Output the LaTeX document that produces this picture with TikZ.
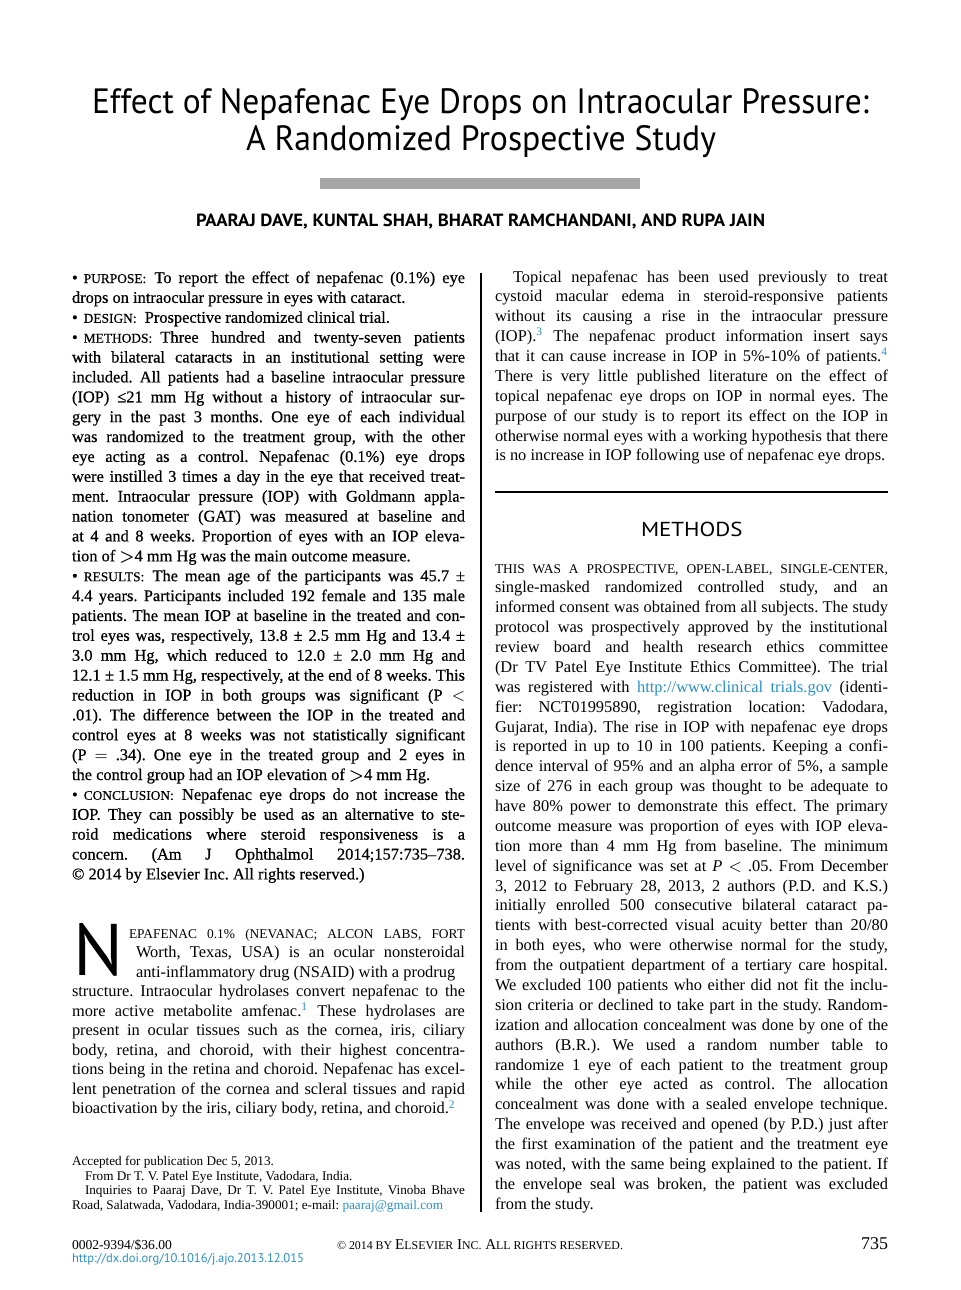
\documentclass[tikz,border=0pt]{standalone}
\usepackage{graphicx}
\usepackage{fontspec}
\setmainfont{Liberation Serif}
\newfontfamily\hdfont{PT Sans}
\newfontface\absfont{Liberation Serif}[FakeBold=0.5]
\usepackage{xcolor}
\definecolor{linkblue}{HTML}{2A90C5}
\definecolor{bargray}{HTML}{A6A6A6}
\tolerance=10000
\pretolerance=-1
\hbadness=10000
\hfuzz=2pt
\hyphenpenalty=10000
\frenchspacing
\newcommand\smc[1]{{\fontsize{6.7pt}{9.94pt}\selectfont #1}}
\newcommand\smf[1]{{\fontsize{6.3pt}{8pt}\selectfont #1}}
\newcommand\rf[1]{\textcolor{linkblue}{\textsuperscript{#1}}}
\newcommand\bul{•\kern3pt}
\newcommand\bgt{\mbox{\boldmath$>$}}
\tikzset{
  para/.style={anchor=base west, inner sep=0pt, outer sep=0pt, text width=196.5pt, align=justify,
    font=\fontsize{8.2pt}{9.94pt}\selectfont},
  headtxt/.style={inner sep=0pt, outer sep=0pt, anchor=base},
  colrule/.style={line width=0.65pt, black},
}
\begin{document}
\begin{tikzpicture}[x=0.5pt,y=-0.5pt]
\useasboundingbox (0,0) rectangle (960,1290);
\fill[white] (0,0) rectangle (960,1290);

% title
\node[headtxt, anchor=base west] (t1) at (92,113) {\resizebox{388.5pt}{12.5pt}{\hdfont Effect of Nepafenac Eye Drops on Intraocular Pressure:}};
\node[headtxt, anchor=base west] (t2) at (246,150) {\resizebox{235pt}{12.5pt}{\hdfont A Randomized Prospective Study}};
\fill[bargray] (320,178) rectangle (640,189);
\node[headtxt, anchor=base west] (au) at (196,226) {\resizebox{284.5pt}{6.3pt}{\hdfont\bfseries PAARAJ DAVE, KUNTAL SHAH, BHARAT RAMCHANDANI, AND RUPA JAIN}};

% column rule
\coordinate (rtop) at (481,273);
\coordinate (rbot) at (481,1212);
\draw[colrule] (rtop) -- (rbot);

% abstract
\node[para, font=\absfont\fontsize{8.2pt}{9.94pt}\selectfont] (abs) at (72,283) {%
\bul\smc{PURPOSE:}\enspace To report the effect of nepafenac (0.1\%) eye\linebreak
drops on intraocular pressure in eyes with cataract.\par
\bul\smc{DESIGN:}\enspace Prospective randomized clinical trial.\par
\bul\smc{METHODS:}\enspace Three hundred and twenty-seven patients\linebreak
with bilateral cataracts in an institutional setting were\linebreak
included. All patients had a baseline intraocular pressure\linebreak
(IOP) ≤21 mm Hg without a history of intraocular sur-\linebreak
gery in the past 3 months. One eye of each individual\linebreak
was randomized to the treatment group, with the other\linebreak
eye acting as a control. Nepafenac (0.1\%) eye drops\linebreak
were instilled 3 times a day in the eye that received treat-\linebreak
ment. Intraocular pressure (IOP) with Goldmann appla-\linebreak
nation tonometer (GAT) was measured at baseline and\linebreak
at 4 and 8 weeks. Proportion of eyes with an IOP eleva-\linebreak
tion of \bgt4 mm Hg was the main outcome measure.\par
\bul\smc{RESULTS:}\enspace The mean age of the participants was 45.7 ±\linebreak
4.4 years. Participants included 192 female and 135 male\linebreak
patients. The mean IOP at baseline in the treated and con-\linebreak
trol eyes was, respectively, 13.8 ± 2.5 mm Hg and 13.4 ±\linebreak
3.0 mm Hg, which reduced to 12.0 ± 2.0 mm Hg and\linebreak
12.1 ± 1.5 mm Hg, respectively, at the end of 8 weeks. This\linebreak
reduction in IOP in both groups was significant (\textit{P} $<$\linebreak
.01). The difference between the IOP in the treated and\linebreak
control eyes at 8 weeks was not statistically significant\linebreak
(\textit{P} $=$ .34). One eye in the treated group and 2 eyes in\linebreak
the control group had an IOP elevation of \bgt4 mm Hg.\par
\bul\smc{CONCLUSION:}\enspace Nepafenac eye drops do not increase the\linebreak
IOP. They can possibly be used as an alternative to ste-\linebreak
roid medications where steroid responsiveness is a\linebreak
concern. (Am J Ophthalmol 2014;157:735–738.\linebreak
© 2014 by Elsevier Inc. All rights reserved.)};

% intro with drop cap
\node[headtxt, anchor=base west] (dropN) at (74,975) {\resizebox{25pt}{26pt}{\hdfont N}};
\node[para, text width=164.5pt, font=\fontsize{8.2pt}{9.775pt}\selectfont] (introA) at (136,938) {\parfillskip=0pt
\hspace*{-3.5pt}\smc{EPAFENAC 0.1\% (NEVANAC; ALCON LABS, FORT}\linebreak
Worth, Texas, USA) is an ocular nonsteroidal\linebreak
anti-inflammatory drug (NSAID) with a prodrug};
\node[para, font=\fontsize{8.2pt}{9.775pt}\selectfont] (introB) at (72,996.65) {%
structure. Intraocular hydrolases convert nepafenac to the\linebreak
more active metabolite amfenac.\rf{1} These hydrolases are\linebreak
present in ocular tissues such as the cornea, iris, ciliary\linebreak
body, retina, and choroid, with their highest concentra-\linebreak
tions being in the retina and choroid. Nepafenac has excel-\linebreak
lent penetration of the cornea and scleral tissues and rapid\linebreak
bioactivation by the iris, ciliary body, retina, and choroid.\rf{2}};

% footnotes
\node[para, font=\fontsize{6.6pt}{7.35pt}\selectfont] (fn) at (72,1165.5) {%
Accepted for publication Dec 5, 2013.\par
\hspace*{6.5pt}From Dr T. V. Patel Eye Institute, Vadodara, India.\par
\hspace*{6.5pt}Inquiries to Paaraj Dave, Dr T. V. Patel Eye Institute, Vinoba Bhave\linebreak
Road, Salatwada, Vadodara, India-390001; e-mail: \textcolor{linkblue}{paaraj@gmail.com}};

% footer
\node[headtxt, anchor=base west] (issn) at (72,1249) {\resizebox{50pt}{!}{\fontsize{7pt}{8pt}\selectfont 0002-9394/\$36.00}};
\node[headtxt, anchor=base west] (doi) at (72,1262) {\resizebox{116pt}{!}{\hdfont\fontsize{7pt}{8pt}\selectfont\color{linkblue}http://dx.doi.org/10.1016/j.ajo.2013.12.015}};
\node[headtxt, anchor=base west] (copy) at (337,1249) {\resizebox{143pt}{!}{\fontsize{8pt}{9pt}\selectfont\smf{© 2014 BY }E\smf{LSEVIER} I\smf{NC.} A\smf{LL RIGHTS RESERVED.}}};
\node[headtxt, anchor=base east] (pg) at (888,1249) {\fontsize{9pt}{10pt}\selectfont 735};

% right column
\node[para] (intro2) at (495,282) {\parfillskip=0pt
\hspace*{9pt}Topical nepafenac has been used previously to treat\linebreak
cystoid macular edema in steroid-responsive patients\linebreak
without its causing a rise in the intraocular pressure\linebreak
(IOP).\rf{3} The nepafenac product information insert says\linebreak
that it can cause increase in IOP in 5\%-10\% of patients.\rf{4}\linebreak
There is very little published literature on the effect of\linebreak
topical nepafenac eye drops on IOP in normal eyes. The\linebreak
purpose of our study is to report its effect on the IOP in\linebreak
otherwise normal eyes with a working hypothesis that there\linebreak
is no increase in IOP following use of nepafenac eye drops.};

\coordinate (hrL) at (495,492);
\coordinate (hrR) at (888,492);
\draw[line width=1pt] (hrL) -- (hrR);
\node[headtxt, anchor=base west] (mh) at (641,536) {\resizebox{50.8pt}{7.2pt}{\hdfont METHODS}};

\node[para] (meth) at (495,573) {%
\smc{THIS WAS A PROSPECTIVE, OPEN-LABEL, SINGLE-CENTER,}\linebreak
single-masked randomized controlled study, and an\linebreak
informed consent was obtained from all subjects. The study\linebreak
protocol was prospectively approved by the institutional\linebreak
review board and health research ethics committee\linebreak
(Dr TV Patel Eye Institute Ethics Committee). The trial\linebreak
was registered with \textcolor{linkblue}{http://www.clinical trials.gov} (identi-\linebreak
fier: NCT01995890, registration location: Vadodara,\linebreak
Gujarat, India). The rise in IOP with nepafenac eye drops\linebreak
is reported in up to 10 in 100 patients. Keeping a confi-\linebreak
dence interval of 95\% and an alpha error of 5\%, a sample\linebreak
size of 276 in each group was thought to be adequate to\linebreak
have 80\% power to demonstrate this effect. The primary\linebreak
outcome measure was proportion of eyes with IOP eleva-\linebreak
tion more than 4 mm Hg from baseline. The minimum\linebreak
level of significance was set at \textit{P} $<$ .05. From December\linebreak
3, 2012 to February 28, 2013, 2 authors (P.D. and K.S.)\linebreak
initially enrolled 500 consecutive bilateral cataract pa-\linebreak
tients with best-corrected visual acuity better than 20/80\linebreak
in both eyes, who were otherwise normal for the study,\linebreak
from the outpatient department of a tertiary care hospital.\linebreak
We excluded 100 patients who either did not fit the inclu-\linebreak
sion criteria or declined to take part in the study. Random-\linebreak
ization and allocation concealment was done by one of the\linebreak
authors (B.R.). We used a random number table to\linebreak
randomize 1 eye of each patient to the treatment group\linebreak
while the other eye acted as control. The allocation\linebreak
concealment was done with a sealed envelope technique.\linebreak
The envelope was received and opened (by P.D.) just after\linebreak
the first examination of the patient and the treatment eye\linebreak
was noted, with the same being explained to the patient. If\linebreak
the envelope seal was broken, the patient was excluded\linebreak
from the study.};
\end{tikzpicture}
\end{document}
